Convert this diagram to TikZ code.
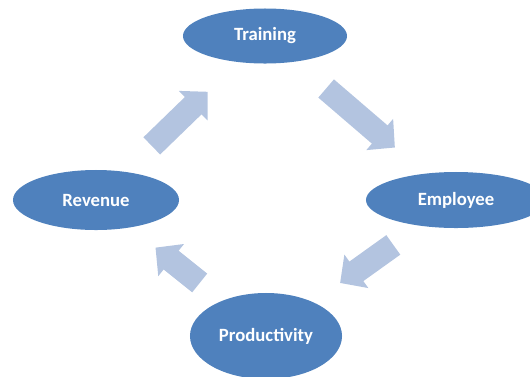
\documentclass[tikz,border=0pt]{standalone}
\usepackage{fontspec}
\setmainfont{Carlito}
\usetikzlibrary{shapes.geometric,arrows.meta,calc}
\definecolor{ovalblue}{RGB}{79,129,189}
\definecolor{arrowblue}{RGB}{179,196,224}
\begin{document}
\begin{tikzpicture}[x=0.025cm, y=-0.025cm]
        \tikzstyle{oval}=[ellipse, fill=ovalblue, inner sep=0pt, text=white, font=\fontsize{13.3}{16}\selectfont\bfseries]
        \tikzstyle{transition}=[draw=arrowblue, line width=0.6cm, -{Triangle[width=1cm, length=0.5cm]}]
        \useasboundingbox (0, 0) rectangle (530, 376);
        \clip (0, 0) rectangle (530, 376);
        \node[oval, minimum width=4.1cm, minimum height=1.375cm] (training) at (265, 36) {Training};
        \node[oval, minimum width=4.5cm, minimum height=1.4cm] (employee) at (456, 200) {Employee};
        \node[oval, minimum width=3.8cm, minimum height=2.15cm] (productivity) at (266, 336) {Productivity};
        \node[oval, minimum width=4.15cm, minimum height=1.5cm] (revenue) at (96, 200) {Revenue};

        \draw[transition] ($(revenue.center)!0.33!(training.center)$) -- ($(revenue.center)!0.66!(training.center)$);
        \draw[transition] ($(training.center)!0.32!(employee.center)$) -- ($(training.center)!0.68!(employee.center)$);
        \draw[transition] ($(employee.center)!0.33!(productivity.center)$) -- ($(employee.center)!0.61!(productivity.center)$);
        \draw[transition] ($(productivity.center)!0.39!(revenue.center)$) -- ($(productivity.center)!0.65!(revenue.center)$);

    \end{tikzpicture}
\end{document}
